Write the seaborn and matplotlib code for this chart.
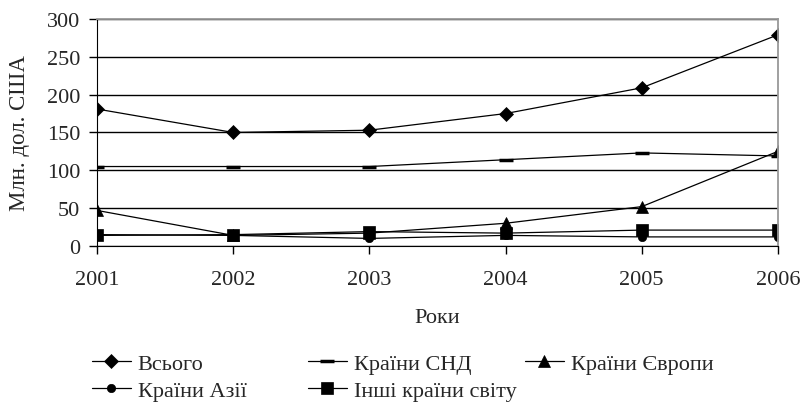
import pandas as pd
import matplotlib.pyplot as plt
import seaborn as sns

# Data (млн. дол. США)
years = ['2001', '2002', '2003', '2004', '2005', '2006']
total = [181, 150, 153, 175, 209, 279]
cis = [105, 105, 105, 114, 123, 119]
europe = [47, 14, 17, 30, 52, 125]
asia = [15, 14, 10, 14, 12, 12]
other = [14, 15, 19, 17, 21, 21]

names = ['Всього', 'Країни СНД', 'Країни Європи', 'Країни Азії', 'Інші країни світу']
markers = ['D', '_', '^', 'o', 's']
sizes = [7, 10, 8, 6, 8.5]

df = pd.DataFrame({'Рік': years * 5,
                   'Значення': total + cis + europe + asia + other,
                   'Серія': [n for n in names for _ in years]})

sns.set_style('white')
plt.rcParams['font.family'] = ['Liberation Serif', 'DejaVu Serif']
fs = 16

fig = plt.figure(figsize=(8.02, 4.10), dpi=100)
ax = fig.add_axes([0.1209, 0.3976, 0.849, 0.5537])

for name, m, s in zip(names, markers, sizes):
    sub = df[df['Серія'] == name]
    sns.lineplot(x='Рік', y='Значення', data=sub, ax=ax, color='black', lw=0.9,
                 marker=m, markersize=s, markeredgecolor='black',
                 markeredgewidth=2.5 if m == '_' else 0.5,
                 label=name, sort=False, legend=False)

ax.set_ylim(0, 300)
ax.set_yticks(range(0, 301, 50))
ax.set_xlim(0, 5)
ax.grid(axis='y', color='black', lw=1)
ax.grid(axis='x', visible=False)
ax.set_axisbelow(True)
for sp in ['top', 'right']:
    ax.spines[sp].set_color('#999999')
    ax.spines[sp].set_linewidth(1.3)
ax.spines['left'].set_color('black')
ax.spines['bottom'].set_color('black')
ax.tick_params(axis='both', labelsize=fs, length=6, width=1, direction='out',
               color='black', left=True, bottom=True)
ax.tick_params(axis='x', pad=11)
ax.tick_params(axis='y', pad=6)
ax.set_ylabel('Млн. дол. США', fontsize=fs + 0.5, labelpad=12)
ax.set_xlabel('Роки', fontsize=fs, labelpad=14)

# Legend laid out in a fixed grid, one legend per column
handles = ax.get_lines()
cols = [[0, 3], [1, 4], [2]]
xs = [92, 308, 525]
for idx, x in zip(cols, xs):
    leg = fig.legend([handles[i] for i in idx], [names[i] for i in idx],
                     loc='upper left', bbox_to_anchor=(x / 802, 1 - 354 / 410),
                     frameon=False, fontsize=fs, handlelength=1.75,
                     handletextpad=0.3, labelspacing=0.3, borderpad=0,
                     borderaxespad=0)

fig.savefig('out.png', dpi=100)
